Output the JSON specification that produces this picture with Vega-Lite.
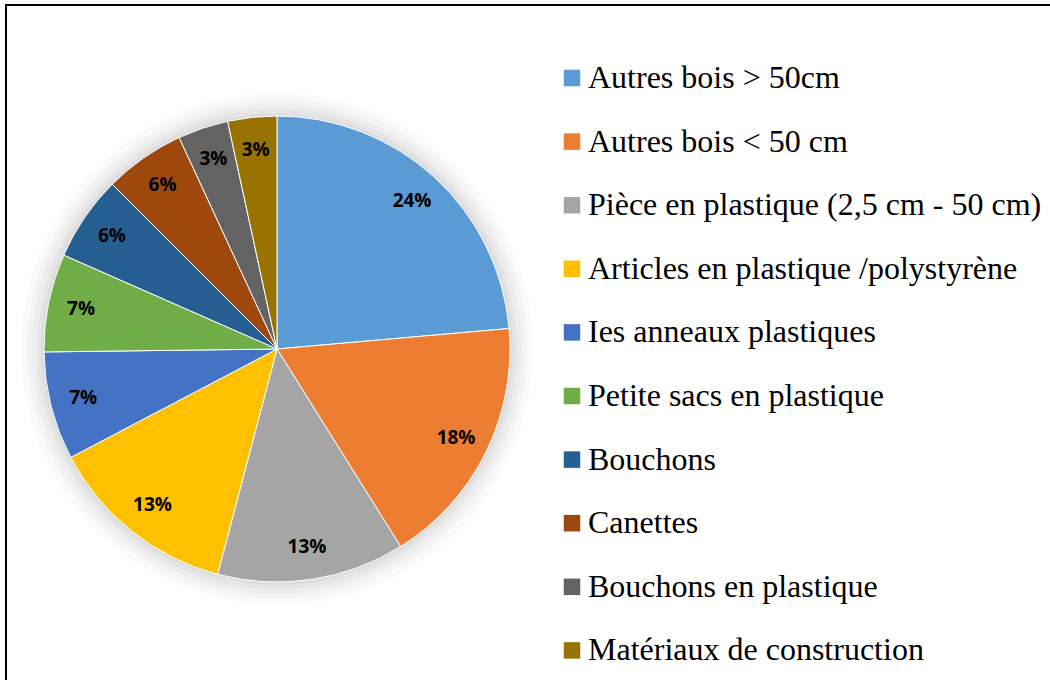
{
  "$schema": "https://vega.github.io/schema/vega-lite/v6.json",
  "width": 542,
  "height": 688,
  "autosize": {"type": "none"},
  "padding": {"left": 6, "top": 5, "right": 502, "bottom": 0},
  "background": "white",
  "view": {"stroke": "#000000", "strokeWidth": 2, "strokeDash": [542, 688, 3000]},
  "config": {
    "legend": {
      "strokeColor": "#000000",
      "strokeWidth": 2,
      "strokeDash": [1500, 6000]
    }
  },
  "layer": [
    {
      "data": {"values": [{"v": 100}]},
      "mark": {"type": "arc", "radius": 256, "color": "#000000", "opacity": 0.018},
      "encoding": {"theta": {"field": "v", "type": "quantitative"}}
    },
    {
      "data": {"values": [{"v": 100}]},
      "mark": {"type": "arc", "radius": 250, "color": "#000000", "opacity": 0.022},
      "encoding": {"theta": {"field": "v", "type": "quantitative"}}
    },
    {
      "data": {"values": [{"v": 100}]},
      "mark": {"type": "arc", "radius": 245, "color": "#000000", "opacity": 0.026},
      "encoding": {"theta": {"field": "v", "type": "quantitative"}}
    },
    {
      "data": {"values": [{"v": 100}]},
      "mark": {"type": "arc", "radius": 240, "color": "#000000", "opacity": 0.03},
      "encoding": {"theta": {"field": "v", "type": "quantitative"}}
    },
    {
      "data": {"values": [{"v": 100}]},
      "mark": {"type": "arc", "radius": 236, "color": "#000000", "opacity": 0.03},
      "encoding": {"theta": {"field": "v", "type": "quantitative"}}
    },
    {
      "data": {"name": "slices", "values": [
        {"idx": 1, "category": "Autres bois > 50cm", "value": 23.6, "label": "24%"},
        {"idx": 2, "category": "Autres bois < 50 cm", "value": 17.5, "label": "18%"},
        {"idx": 3, "category": "Pièce en plastique (2,5 cm - 50 cm)", "value": 13.0, "label": "13%"},
        {"idx": 4, "category": "Articles en plastique /polystyrène", "value": 13.2, "label": "13%"},
        {"idx": 5, "category": "Ies anneaux plastiques", "value": 7.5, "label": "7%"},
        {"idx": 6, "category": "Petite sacs en plastique", "value": 6.8, "label": "7%"},
        {"idx": 7, "category": "Bouchons", "value": 5.9, "label": "6%"},
        {"idx": 8, "category": "Canettes", "value": 5.6, "label": "6%"},
        {"idx": 9, "category": "Bouchons en plastique", "value": 3.5, "label": "3%"},
        {"idx": 10, "category": "Matériaux de construction", "value": 3.4, "label": "3%"}
      ]},
      "layer": [
        {
          "mark": {"type": "arc", "radius": 233, "stroke": "#ffffff", "strokeWidth": 1},
          "encoding": {
            "theta": {"field": "value", "type": "quantitative", "stack": true},
            "order": {"field": "idx", "type": "quantitative"},
            "color": {
              "field": "category",
              "type": "nominal",
              "sort": null,
              "scale": {
                "domain": ["Autres bois > 50cm", "Autres bois < 50 cm", "Pièce en plastique (2,5 cm - 50 cm)", "Articles en plastique /polystyrène", "Ies anneaux plastiques", "Petite sacs en plastique", "Bouchons", "Canettes", "Bouchons en plastique", "Matériaux de construction"],
                "range": ["#5B9BD5", "#ED7D31", "#A5A5A5", "#FFC000", "#4472C4", "#70AD47", "#255E91", "#9E480E", "#636363", "#997300"]
              },
              "legend": {
                "title": null,
                "orient": "none",
                "legendX": 493,
                "legendY": 0,
                "padding": 57,
                "symbolType": "square",
                "symbolSize": 272,
                "symbolStrokeWidth": 0,
                "symbolOpacity": 1,
                "labelFont": "Liberation Serif",
                "labelFontSize": 32,
                "labelColor": "#000000",
                "labelOffset": 0,
                "labelLimit": 700,
                "rowPadding": 31.6
              }
            }
          }
        },
        {
          "mark": {"type": "text", "radius": 200, "font": "Open Sans", "fontWeight": "bold", "fontSize": 19, "color": "#000000"},
          "encoding": {
            "theta": {"field": "value", "type": "quantitative", "stack": true},
            "order": {"field": "idx", "type": "quantitative"},
            "detail": {"field": "category", "type": "nominal"},
            "text": {"field": "label", "type": "nominal"}
          }
        }
      ]
    }
  ]
}
